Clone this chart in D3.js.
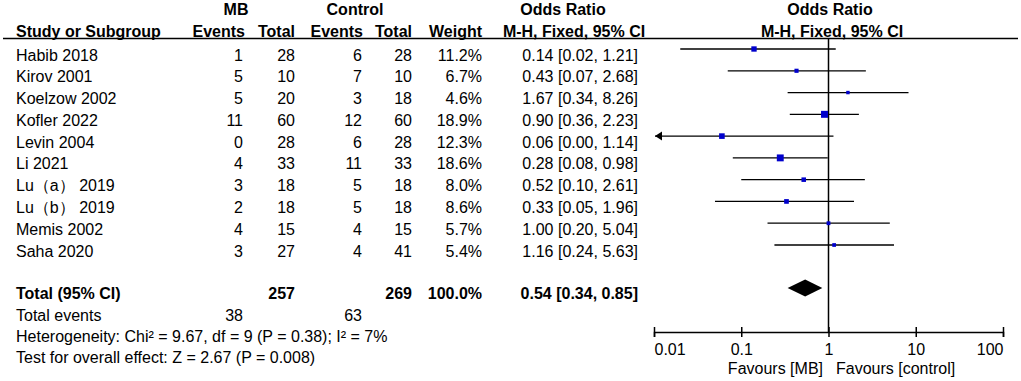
<!DOCTYPE html>
<html>
<head>
<meta charset="utf-8">
<script src="https://cdn.jsdelivr.net/npm/d3@7"></script>
<style>
  body { margin: 0; background: #fff; }
  svg text { font-family: "Liberation Sans", Arial, sans-serif; font-size: 16px; fill: #000; }
  .bold { font-weight: bold; }
</style>
</head>
<body>
<div id="chart"></div>
<script>
// study data
const studies = ["Habib 2018", "Kirov 2001", "Koelzow 2002", "Kofler 2022", "Levin 2004",
    "Li 2021", "Lu（a） 2019", "Lu（b） 2019", "Memis 2002", "Saha 2020"];
const mbEvents = [1, 5, 5, 11, 0, 4, 3, 2, 4, 3];
const mbTotal = [28, 10, 20, 60, 28, 33, 18, 18, 15, 27];
const ctlEvents = [6, 7, 3, 12, 6, 11, 5, 5, 4, 4];
const ctlTotal = [28, 10, 18, 60, 28, 33, 18, 18, 15, 41];
const weights = [11.2, 6.7, 4.6, 18.9, 12.3, 18.6, 8.0, 8.6, 5.7, 5.4];
const oddsRatio = [0.14, 0.43, 1.67, 0.90, 0.06, 0.28, 0.52, 0.33, 1.00, 1.16];
const ciLow = [0.02, 0.07, 0.34, 0.36, 0.00, 0.08, 0.10, 0.05, 0.20, 0.24];
const ciHigh = [1.21, 2.68, 8.26, 2.23, 1.14, 0.98, 2.61, 1.96, 5.04, 5.63];

// pooled result
const pooled = { or: 0.54, lo: 0.34, hi: 0.85 };
const totals = { mb: 257, ctl: 269, weight: "100.0%" };
const totalEvents = { mb: 38, ctl: 63 };
const footnotes = [
    "Heterogeneity: Chi² = 9.67, df = 9 (P = 0.38); I² = 7%",
    "Test for overall effect: Z = 2.67 (P = 0.008)"
];

// axis
const tickValues = [0.01, 0.1, 1, 10, 100];
const tickLabels = ["0.01", "0.1", "1", "10", "100"];

const width = 1021, height = 381;
const svg = d3.select("#chart").append("svg")
    .attr("width", width)
    .attr("height", height);

svg.append("rect").attr("width", width).attr("height", height).attr("fill", "#fff");

const x = d3.scaleLog().domain([0.01, 100]).range([654, 1003]);
const y = d3.scalePoint().domain(studies).range([55, 251]);

const fmt2 = d3.format(".2f");
const base = 5.5;    // text baseline below row centre
const markOff = -6;  // markers sit a little above the text centre
const left = 16;

// columns (right edge of each)
const cols = { mbE: 243, mbT: 295, ctE: 362, ctT: 412, wt: 482, or: 638 };

function txt(xp, yp, s, anchor, bold) {
    return svg.append("text")
        .attr("x", xp)
        .attr("y", yp)
        .attr("text-anchor", anchor || "start")
        .attr("class", bold ? "bold" : null)
        .text(s);
}

// headers
txt(236, 15, "MB", "middle", true);
txt(355, 15, "Control", "middle", true);
txt(563, 15, "Odds Ratio", "middle", true);
txt(830, 15, "Odds Ratio", "middle", true);
txt(left, 37, "Study or Subgroup", "start", true);
txt(cols.mbE + 2, 37, "Events", "end", true);
txt(cols.mbT, 37, "Total", "end", true);
txt(cols.ctE + 1, 37, "Events", "end", true);
txt(cols.ctT, 37, "Total", "end", true);
txt(cols.wt, 37, "Weight", "end", true);
txt(574, 37, "M-H, Fixed, 95% CI", "middle", true);
txt(832, 37, "M-H, Fixed, 95% CI", "middle", true);

svg.append("line")
    .attr("x1", 3).attr("x2", 1018)
    .attr("y1", 38.5).attr("y2", 38.5)
    .attr("stroke", "#000").attr("stroke-width", 1.5);

// study rows
studies.forEach((s, i) => {
    const yc = y(s);
    txt(left, yc + base, s);
    txt(cols.mbE, yc + base, mbEvents[i], "end");
    txt(cols.mbT, yc + base, mbTotal[i], "end");
    txt(cols.ctE, yc + base, ctlEvents[i], "end");
    txt(cols.ctT, yc + base, ctlTotal[i], "end");
    txt(cols.wt, yc + base, weights[i].toFixed(1) + "%", "end");
    txt(cols.or, yc + base, `${fmt2(oddsRatio[i])} [${fmt2(ciLow[i])}, ${fmt2(ciHigh[i])}]`, "end");
});

// vertical line of no effect
svg.append("line")
    .attr("x1", x(1)).attr("x2", x(1))
    .attr("y1", 38).attr("y2", 332)
    .attr("stroke", "#000").attr("stroke-width", 1.5);

// CI lines
const plot = svg.append("g");
studies.forEach((s, i) => {
    const ym = y(s) + markOff;
    const clipped = ciLow[i] < x.domain()[0];
    const x1 = clipped ? x.range()[0] + 1 : x(ciLow[i]);
    plot.append("line")
        .attr("x1", x1).attr("x2", x(ciHigh[i]))
        .attr("y1", ym).attr("y2", ym)
        .attr("stroke", "#000").attr("stroke-width", 1.3);
    if (clipped) {
        // arrow for interval running past the axis
        plot.append("path")
            .attr("d", `M${x1},${ym} l7,-4.5 l0,9 Z`)
            .attr("fill", "#000");
    }
});

// weighted squares
studies.forEach((s, i) => {
    const side = 1.6 * Math.sqrt(weights[i]);
    plot.append("rect")
        .attr("x", x(oddsRatio[i]) - side / 2)
        .attr("y", y(s) + markOff - side / 2)
        .attr("width", side)
        .attr("height", side)
        .attr("fill", "#0000cc");
});

// total row
const yTot = 293;
txt(left, yTot + base, "Total (95% CI)", "start", true);
txt(cols.mbT, yTot + base, totals.mb, "end", true);
txt(cols.ctT, yTot + base, totals.ctl, "end", true);
txt(cols.wt, yTot + base, totals.weight, "end", true);
txt(cols.or, yTot + base, `${fmt2(pooled.or)} [${fmt2(pooled.lo)}, ${fmt2(pooled.hi)}]`, "end", true);

const yd = yTot - 5;
svg.append("path")
    .attr("d", `M${x(pooled.lo)},${yd} L${x(pooled.or)},${yd - 8.5} L${x(pooled.hi)},${yd} L${x(pooled.or)},${yd + 8.5} Z`)
    .attr("fill", "#000");

// total events and tests
txt(left, 320.5, "Total events");
txt(cols.mbE, 320.5, totalEvents.mb, "end");
txt(cols.ctE, 320.5, totalEvents.ctl, "end");
txt(left, 342, footnotes[0]);
txt(left, 362.5, footnotes[1]);

// axis
const axis = d3.axisBottom(x)
    .tickValues(tickValues)
    .tickFormat((d, i) => tickLabels[i])
    .tickSizeOuter(0)
    .tickSize(5)
    .tickPadding(7);

const gAxis = svg.append("g")
    .attr("transform", "translate(0,332)")
    .call(axis);
gAxis.select(".domain").attr("stroke", "#000").attr("stroke-width", 1.5);
gAxis.selectAll(".tick line").attr("y1", -5).attr("y2", 5).attr("stroke", "#000").attr("stroke-width", 1.5);
gAxis.selectAll(".tick text")
    .style("font-family", '"Liberation Sans", Arial, sans-serif')
    .style("font-size", "16px")
    .attr("fill", "#000")
    .attr("text-anchor", (d, i) => i === 0 ? "start" : i === tickValues.length - 1 ? "end" : "middle");

txt(823, 374, "Favours [MB]", "end");
txt(836, 374, "Favours [control]", "start");
</script>
</body>
</html>
